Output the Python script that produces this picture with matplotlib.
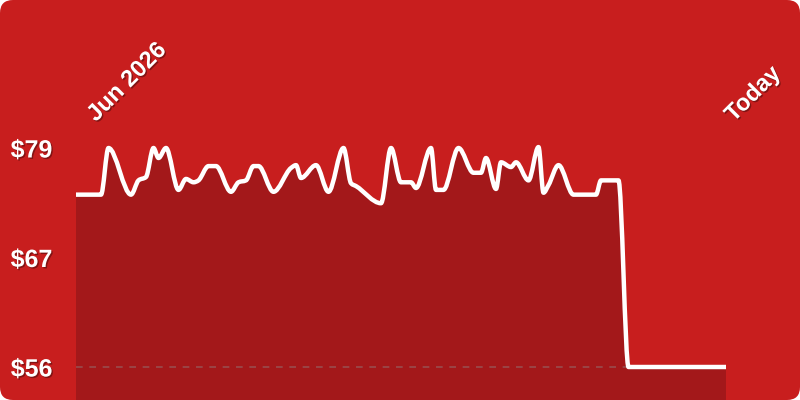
import numpy as np
import matplotlib
matplotlib.use("Agg")
import matplotlib.pyplot as plt
from matplotlib.path import Path
from matplotlib.patches import PathPatch, FancyBboxPatch
import matplotlib.patheffects as pe

# days since start of range, price in dollars
days = [0, 10, 13, 22, 25, 28, 31, 33, 36, 41, 44, 47, 49, 53, 56, 62, 65, 68,
        71, 73, 79, 86, 88, 90, 96, 101, 107, 110, 112, 122, 126, 130, 134, 136,
        142, 144, 147, 153, 159, 162, 164, 168, 170, 174, 176, 181, 185, 187,
        189, 193, 199, 208, 210, 216, 217, 221, 260]
prices = [74.1, 74.1, 79.0, 74.1, 75.6, 75.95, 79.0, 77.95, 79.0, 74.6, 75.75,
          75.4, 75.6, 77.1, 77.1, 74.4, 75.4, 75.6, 77.1, 77.1, 74.4, 76.9, 77.2,
          75.85, 77.2, 74.4, 79.0, 75.3, 75.0, 73.2, 79.0, 75.4, 75.4, 74.8, 79.0,
          74.6, 74.6, 79.0, 76.4, 76.4, 77.95, 74.7, 77.5, 77.0, 77.5, 75.6, 79.1,
          74.3, 75.1, 77.2, 74.1, 74.1, 75.6, 75.6, 75.6, 56.0, 56.0]

tick_values = [56, 67.5, 79]
tick_labels = ["$56", "$67", "$79"]
start_label = "Jun 2026"
end_label = "Today"

BG = "#C81E1E"
FILL = "#A3181A"


def monotone_path(x, y):
    # cubic bezier path with monotone tangents (like d3 curveMonotoneX)
    x = np.asarray(x, float)
    y = np.asarray(y, float)
    h = np.diff(x)
    s = np.diff(y) / h
    t = np.zeros(len(x))
    for i in range(1, len(x) - 1):
        p = (s[i - 1] * h[i] + s[i] * h[i - 1]) / (h[i - 1] + h[i])
        t[i] = (np.sign(s[i - 1]) + np.sign(s[i])) * min(abs(s[i - 1]), abs(s[i]), 0.5 * abs(p))
    t[0] = s[0]
    t[-1] = s[-1]
    verts = [(x[0], y[0])]
    codes = [Path.MOVETO]
    for i in range(len(x) - 1):
        d = h[i] / 3
        verts += [(x[i] + d, y[i] + t[i] * d), (x[i + 1] - d, y[i + 1] - t[i + 1] * d), (x[i + 1], y[i + 1])]
        codes += [Path.CURVE4] * 3
    return verts, codes


fig = plt.figure(figsize=(8, 4), dpi=100)
fig.patch.set_facecolor("white")
bg = FancyBboxPatch((0, 0), 8, 4, boxstyle="round,pad=0,rounding_size=0.13",
                    transform=fig.dpi_scale_trans, facecolor=BG, edgecolor="none",
                    zorder=-10)
fig.patches.append(bg)

ax = fig.add_axes([76 / 800, 0, 650 / 800, 1])
ax.set_facecolor("none")
ppd = 219 / 23.0
ylo = 56 - 33 / ppd
yhi = 79 + 148 / ppd
ax.set_xlim(days[0], days[-1])
ax.set_ylim(ylo, yhi)

verts, codes = monotone_path(days, prices)
fill_verts = verts + [(days[-1], ylo), (days[0], ylo), (days[0], prices[0])]
fill_codes = codes + [Path.LINETO, Path.LINETO, Path.CLOSEPOLY]
ax.add_patch(PathPatch(Path(fill_verts, fill_codes), facecolor=FILL, edgecolor="none", zorder=1))

ax.plot([days[0], days[-1]], [56, 56], color="#8c8c8c", alpha=0.45, lw=1.2,
        dashes=(4, 4), zorder=2, clip_on=False)

ax.add_patch(PathPatch(Path(verts, codes), facecolor="none", edgecolor="white",
                       lw=3.2, capstyle="butt", joinstyle="round", zorder=3))

shadow = [pe.withSimplePatchShadow(offset=(1, -1), shadow_rgbFace="black", alpha=0.35)]

ax.set_yticks(tick_values)
ax.set_yticklabels(tick_labels)
ax.tick_params(axis="y", length=0, pad=17, labelsize=18, labelcolor="white")
for lab in ax.get_yticklabels():
    lab.set_fontweight("bold")
    lab.set_fontfamily("Liberation Sans")
    lab.set_path_effects(shadow)
ax.set_xticks([])
for sp in ax.spines.values():
    sp.set_visible(False)

fig.text(127 / 800, 1 - 82 / 400, start_label, rotation=45, ha="center", va="center",
         rotation_mode="anchor", color="white", fontsize=17, fontweight="bold",
         family="Liberation Sans", path_effects=shadow)
fig.text(753 / 800, 1 - 94 / 400, end_label, rotation=45, ha="center", va="center",
         rotation_mode="anchor", color="white", fontsize=17, fontweight="bold",
         family="Liberation Sans", path_effects=shadow)

fig.savefig("out.png", dpi=100, facecolor=fig.get_facecolor())
